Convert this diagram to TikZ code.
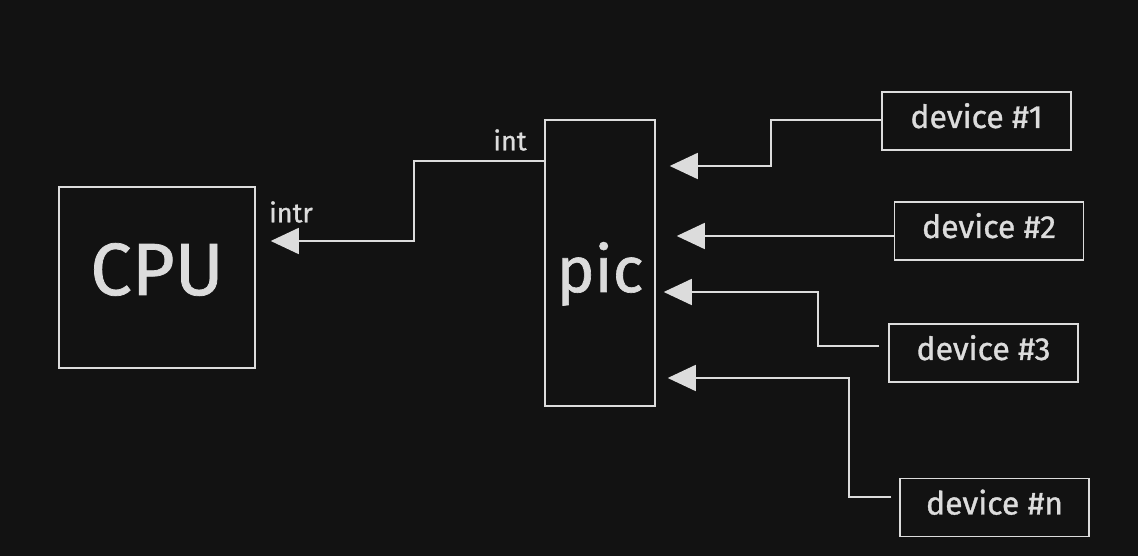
\documentclass[tikz,border=0pt]{standalone}
\usepackage{fontspec}
\setmainfont{Fira Sans}[FakeBold=1]
\usetikzlibrary{arrows.meta,calc}
\definecolor{bg}{HTML}{121212}
\definecolor{ink}{HTML}{DCDCDC}
\begin{document}
\begin{tikzpicture}[x=1pt,y=1pt,
  box/.style={draw=ink,line width=1.5pt,inner sep=0pt,text=ink},
  devbox/.style={box,minimum width=189pt,minimum height=58pt,text height=23pt,text depth=9pt,font=\fontsize{32}{34}\selectfont},
  arr/.style={draw=ink,line width=1.5pt,-{Triangle[length=28pt,width=26pt]},color=ink},
  lbl/.style={text=ink,inner sep=0pt,font=\fontsize{27}{30}\selectfont}]
\fill[bg] (0,0) rectangle (1138,556);
\useasboundingbox (0,0) rectangle (1138,556);
\node[box,minimum width=196pt,minimum height=181pt,text height=51pt,text depth=16pt,font=\fontsize{74}{78}\selectfont] (cpu) at (157,278.5) {CPU};
\node[box,minimum width=110pt,minimum height=286pt,text height=74pt,text depth=16pt,font=\fontsize{64}{68}\selectfont] (pic) at (600,293) {pic};
\node[devbox] (dev1) at (976.5,435) {device \#1};
\node[devbox] (dev2) at (989,325) {device \#2};
\node[devbox] (dev3) at (983.5,203) {device \#3};
\node[devbox] (devn) at (994.5,48.5) {device \#n};
\node[lbl] (intrl) at (291,344) {intr};
\node[lbl] (intl) at (510,416) {int};
% int -> intr
\coordinate (intTip) at ($(cpu.east)+(15,36.5)$);
\draw[arr] (pic.west |- 0,395) -| (414,315) -- (intTip);
% devices -> pic
\coordinate (t1) at ($(pic.east |- 0,390)+(14,0)$);
\coordinate (t2) at ($(pic.east |- 0,320)+(21,0)$);
\coordinate (t3) at ($(pic.east |- 0,264)+(8,0)$);
\coordinate (tn) at ($(pic.east |- 0,178)+(12,0)$);
\draw[arr] (dev1.west |- 0,436) -| (771,390) -- (t1);
\draw[arr] (dev2.west |- 0,320) -- (t2);
\draw[arr] ($(dev3.west |- 0,210)+(-9,0)$) -| (818,264) -- (t3);
\draw[arr] ($(devn.west |- 0,59)+(-8,0)$) -| (849,178) -- (tn);
\end{tikzpicture}
\end{document}
